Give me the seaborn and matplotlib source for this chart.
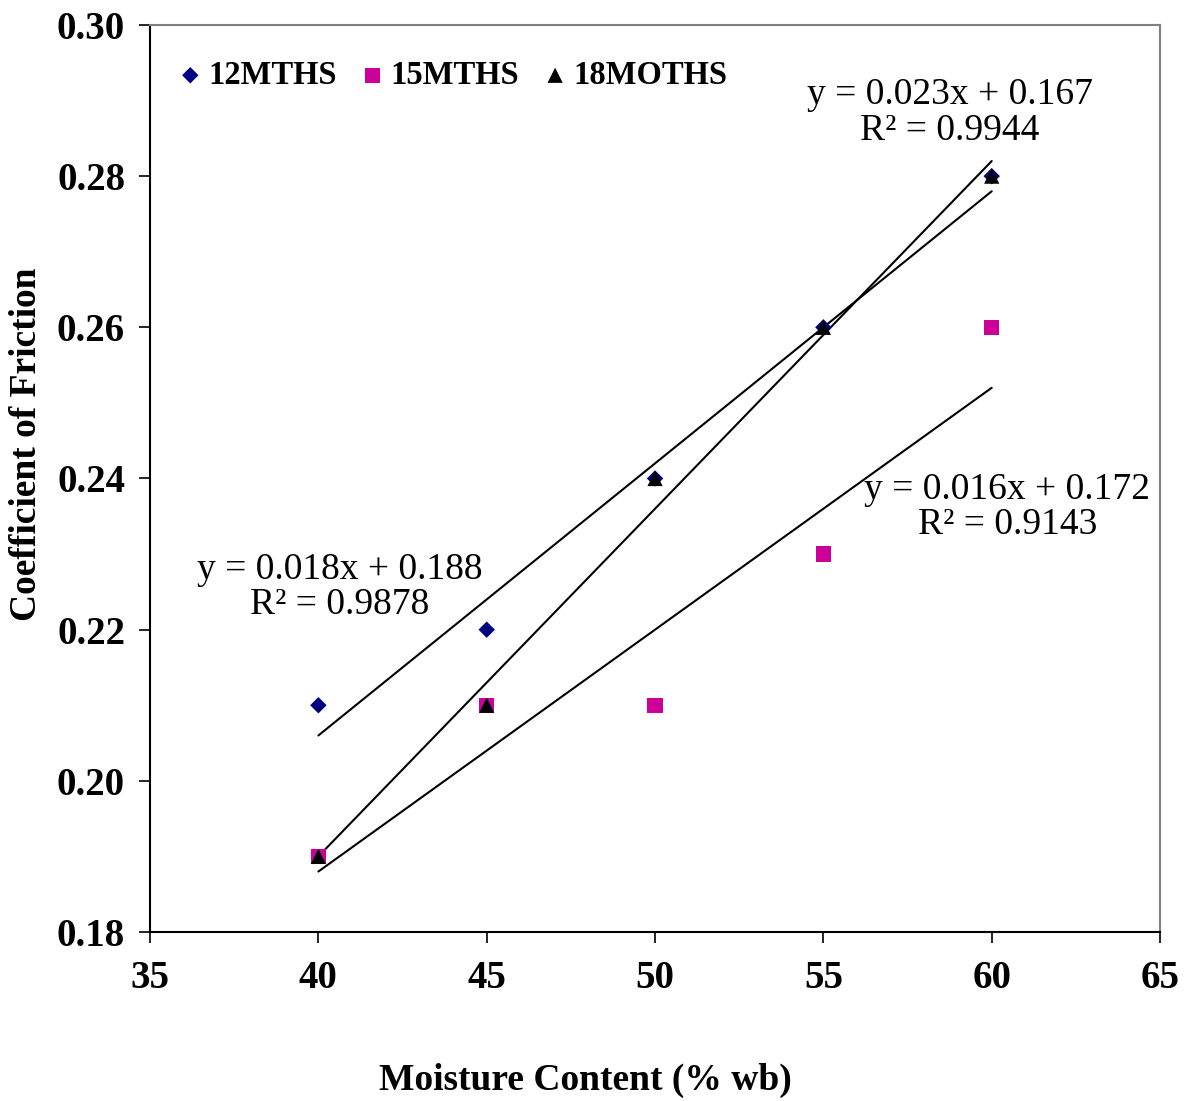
import numpy as np
import pandas as pd
import matplotlib
matplotlib.use("Agg")
import matplotlib.pyplot as plt
import seaborn as sns
from matplotlib.ticker import FormatStrFormatter, MultipleLocator

moisture = [40, 45, 50, 55, 60]
m12 = [0.21, 0.22, 0.24, 0.26, 0.28]
m15 = [0.19, 0.21, 0.21, 0.23, 0.26]
m18 = [0.19, 0.21, 0.24, 0.26, 0.28]
series_names = ["12MTHS", "15MTHS", "18MOTHS"]
eq_texts = ["y = 0.018x + 0.188\nR² = 0.9878",
            "y = 0.016x + 0.172\nR² = 0.9143",
            "y = 0.023x + 0.167\nR² = 0.9944"]

sns.set_theme(style="white")
plt.rcParams['font.family'] = ['Liberation Serif', 'DejaVu Serif']
plt.rcParams['text.color'] = 'black'
plt.rcParams['xtick.color'] = 'black'
plt.rcParams['ytick.color'] = 'black'

df = pd.DataFrame({
    "x": moisture * 3,
    "y": m12 + m15 + m18,
    "series": sum([[n] * 5 for n in series_names], []),
})

fig = plt.figure(figsize=(11.87, 11.01), dpi=100)
ax = fig.add_axes([0.1264, 0.1535, 0.8509, 0.8238])

colors = {"12MTHS": "#000080", "15MTHS": "#CC0099", "18MOTHS": "#000000"}
markers = {"12MTHS": "D", "15MTHS": "s", "18MOTHS": "^"}
sizes = {"12MTHS": 70, "15MTHS": 120, "18MOTHS": 120}

# trendlines
for vals in [m12, m15, m18]:
    p = np.polyfit(moisture, vals, 1)
    xs = np.array([moisture[0], moisture[-1]])
    ax.plot(xs, np.polyval(p, xs), color="black", lw=1.5, zorder=2)

for name in series_names:
    sub = df[df.series == name]
    sns.scatterplot(data=sub, x="x", y="y", marker=markers[name], color=colors[name],
                    s=sizes[name], edgecolor="none", ax=ax, zorder=3, label=name)

ax.set_xlim(35, 65)
ax.set_ylim(0.18, 0.30)
ax.xaxis.set_major_locator(MultipleLocator(5))
ax.yaxis.set_major_locator(MultipleLocator(0.02))
ax.yaxis.set_major_formatter(FormatStrFormatter("%.2f"))
ax.tick_params(axis="both", which="major", direction="out", length=8, width=1.2,
               labelsize=28, color="black", labelcolor="black", left=True, bottom=True)
ax.tick_params(axis="x", pad=12)
ax.tick_params(axis="y", pad=10)
for lab in ax.get_xticklabels() + ax.get_yticklabels():
    lab.set_fontweight("bold")
ax.set_xlabel("")
ax.set_ylabel("")
for s in ["left", "bottom"]:
    ax.spines[s].set_color("black")
    ax.spines[s].set_linewidth(1.5)
for s in ["right", "top"]:
    ax.spines[s].set_color("#808080")
    ax.spines[s].set_linewidth(1.5)

leg = ax.legend(loc="upper left", ncol=3, frameon=False, bbox_to_anchor=(-0.007, 0.994),
                handletextpad=0.0, columnspacing=0.55, handlelength=1.1, markerscale=1.0,
                prop={"size": 23.5, "weight": "bold"})
for t in leg.get_texts():
    t.set_color("black")

ax.text(40.64, 0.2256, eq_texts[0], ha="center", va="center", fontsize=27, linespacing=1.05)
ax.text(60.46, 0.2362, eq_texts[1], ha="center", va="center", fontsize=27, linespacing=1.05)
ax.text(58.76, 0.2884, eq_texts[2], ha="center", va="center", fontsize=27, linespacing=1.05)

fig.text(585 / 1187, 1 - 1080 / 1101, "Moisture Content (% wb)", ha="center", va="center",
         fontsize=27, fontweight="bold")
fig.text(27 / 1187, 1 - 444 / 1101, "Coefficient of Friction", ha="center", va="center",
         rotation=90, fontsize=27, fontweight="bold")

fig.savefig("out.png", dpi=100)
